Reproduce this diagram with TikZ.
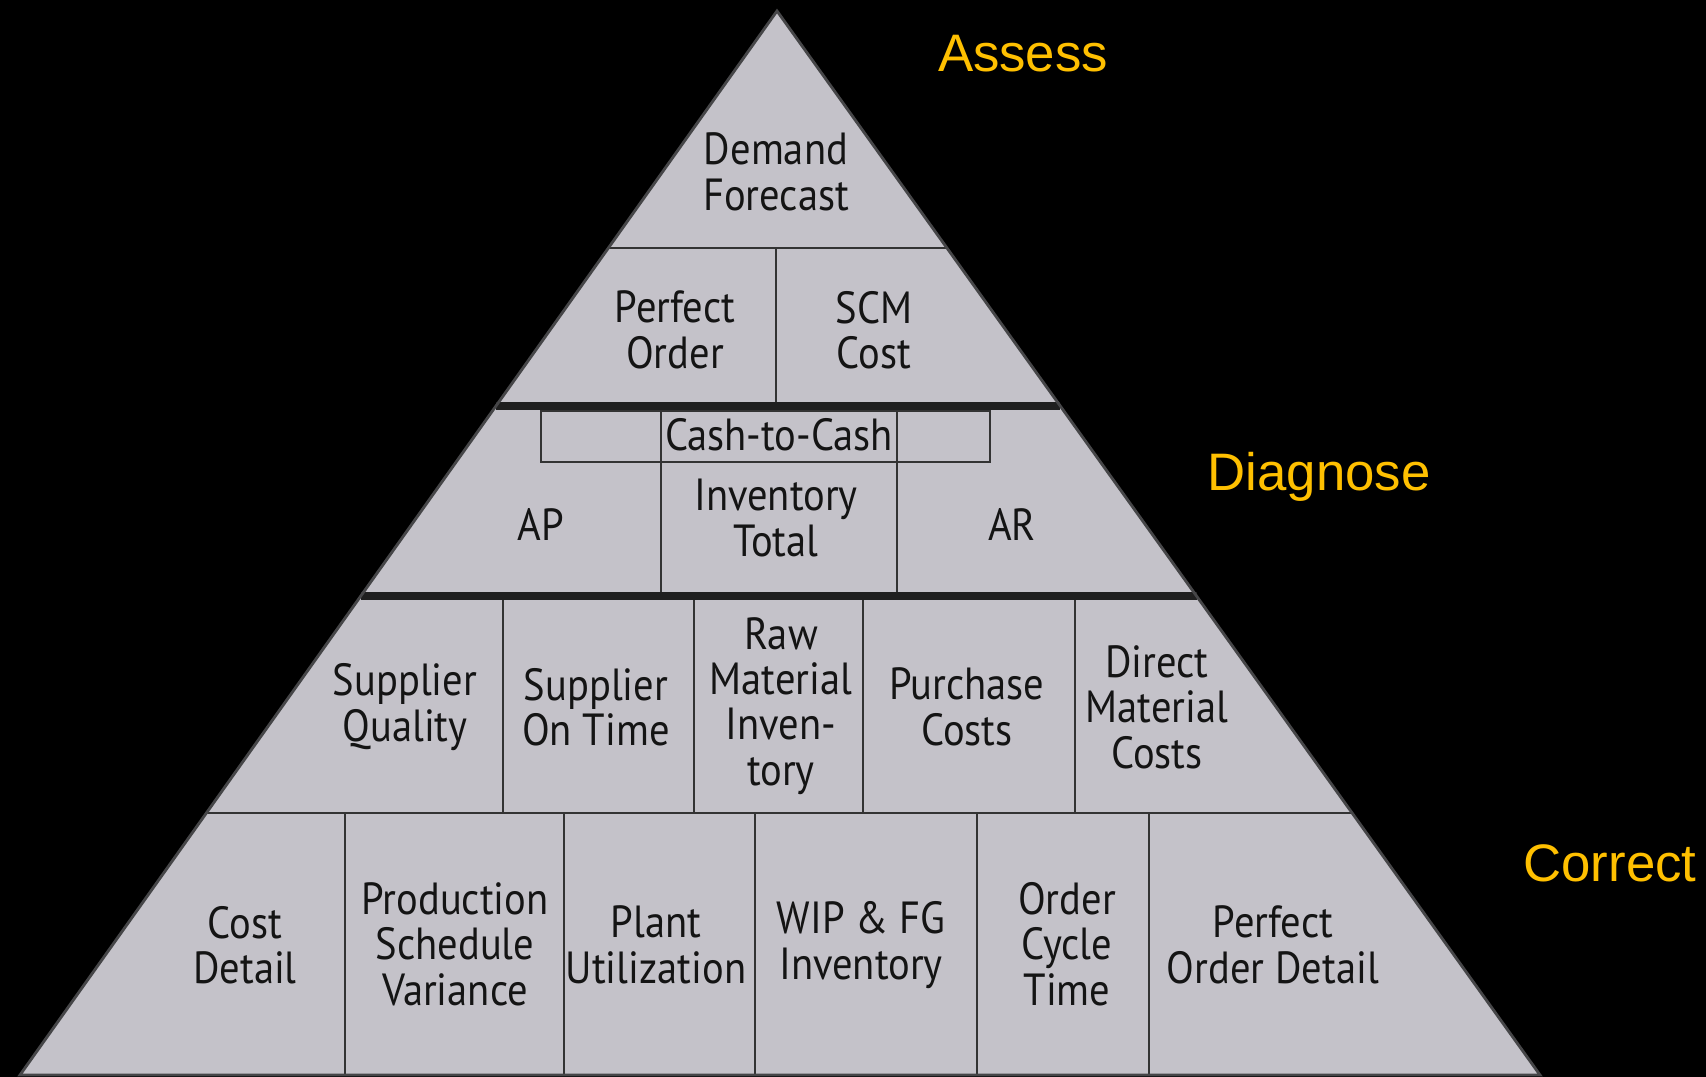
\documentclass[tikz,border=0pt]{standalone}
\usepackage{fontspec}
\setmainfont{Liberation Sans}
\newfontfamily\cellfont[FakeStretch=0.9]{PT Sans}
\usetikzlibrary{calc}
\definecolor{slate}{RGB}{196,194,201}
\definecolor{edge}{RGB}{70,70,72}
\definecolor{amber}{RGB}{255,192,0}
\tikzset{
  cell/.style={
    font=\cellfont\fontsize{12.8}{12.9}\selectfont,
    align=center,
    text=black!92,
    inner sep=0pt
  },
  stage/.style={
    font=\fontsize{15}{18}\selectfont,
    text=amber,
    inner sep=0pt
  },
  rule/.style={draw=black!80, line width=0.6pt},
  band/.style={draw=black!88, line width=2.4pt},
}
\begin{document}
\begin{tikzpicture}[x=0.01cm,y=-0.01cm]
\fill[black] (0,0) rectangle (1706,1077);
\useasboundingbox (0,0) rectangle (1706,1077);
\coordinate (apex) at (777,11);
\coordinate (bl) at (20,1075);
\coordinate (br) at (1540,1075);
\fill[slate] (apex) -- (bl) -- (br) -- cycle;
% tier edges on the two slopes
\foreach \n/\t in {a/0.2227,b/0.3712,c/0.5498,d/0.7538}{
  \coordinate (\n W) at ($(apex)!\t!(bl)$);
  \coordinate (\n E) at ($(apex)!\t!(br)$);
}
\draw[rule] (aW) -- (aE);
\draw[rule] (dW) -- (dE);
\draw[rule] (776,248) -- (776,406);
% cash-to-cash bracket
\draw[rule] (541,411) rectangle (990,462);
\foreach \x in {661,897}
  \draw[rule] (\x,411) -- (\x,596);
\foreach \x in {503,694,863,1075}
  \draw[rule] (\x,596) -- (\x,813);
\foreach \x in {345,564,755,977,1149}
  \draw[rule] (\x,813) -- (\x,1075);
\draw[band] (bW) -- (bE);
\draw[band] (cW) -- (cE);
\draw[edge, line width=0.8pt] (apex) -- (bl) -- (br) -- cycle;

\node[cell] (demand) at (776,172) {Demand\\Forecast};
\node[cell] (perfect) at (675,330) {Perfect\\Order};
\node[cell] (scm) at (874,330) {SCM\\Cost};
\node[cell] (c2c) at (779,435) {Cash-to-Cash};
\node[cell] (ap) at (541,525) {AP};
\node[cell] (invtot) at (776,518) {Inventory\\Total};
\node[cell] (ar) at (1012,525) {AR};

\node[cell] (supq) at (405,707) {Supplier\\Quality};
\node[cell] (supt) at (596,707) {Supplier\\On Time};
\node[cell] (rawmat) at (781,706) {Raw\\Material\\Inven-\\tory};
\node[cell] (purch) at (967,707) {Purchase\\Costs};
\node[cell] (dmat) at (1157,707) {Direct\\Material\\Costs};

\node[cell] (cost) at (245,945) {Cost\\Detail};
\node[cell] (sched) at (455,944) {Production\\Schedule\\Variance};
\node[cell] (plant) at (656,945) {Plant\\Utilization};
\node[cell] (wip) at (861,945) {WIP \& FG\\Inventory};
\node[cell] (cycle) at (1067,944) {Order\\Cycle\\Time};
\node[cell] (podet) at (1273,945) {Perfect\\Order Detail};

\node[stage] (assess) at (1023,54) {Assess};
\node[stage] (diagnose) at (1319,477) {Diagnose};
\node[stage] (correct) at (1610,863) {Correct};
\end{tikzpicture}
\end{document}
